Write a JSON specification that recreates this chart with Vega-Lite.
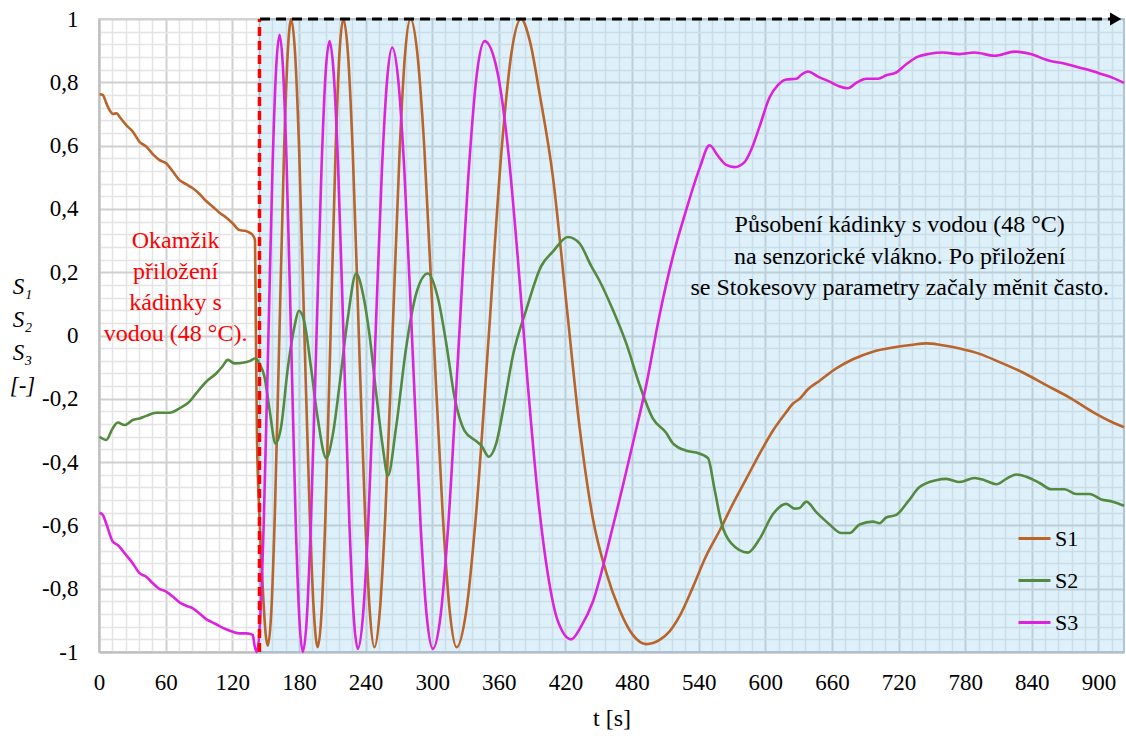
{
  "$schema": "https://vega.github.io/schema/vega-lite/v6.json",
  "width": 1025,
  "height": 633,
  "autosize": {"type": "none"},
  "padding": {"left": 99, "top": 19, "right": 2, "bottom": 84},
  "background": "white",
  "config": {
    "view": {"stroke": "#c8c8c8", "strokeWidth": 1.5},
    "font": "Liberation Serif"
  },
  "datasets": {
    "series": [
      {"s":"S1","t":0.5,"v":0.762},{"s":"S1","t":3.4,"v":0.760},{"s":"S1","t":6.5,"v":0.735},{"s":"S1","t":9.5,"v":0.712},{"s":"S1","t":12.5,"v":0.700},{"s":"S1","t":16,"v":0.702},{"s":"S1","t":18.5,"v":0.691},{"s":"S1","t":24.5,"v":0.665},{"s":"S1","t":30.4,"v":0.644},{"s":"S1","t":36.5,"v":0.612},{"s":"S1","t":42.5,"v":0.597},{"s":"S1","t":48.5,"v":0.573},{"s":"S1","t":54.5,"v":0.554},{"s":"S1","t":60.5,"v":0.544},{"s":"S1","t":66.5,"v":0.518},{"s":"S1","t":72.5,"v":0.491},{"s":"S1","t":78.5,"v":0.478},{"s":"S1","t":84.5,"v":0.465},{"s":"S1","t":90.5,"v":0.447},{"s":"S1","t":96.5,"v":0.425},{"s":"S1","t":102.5,"v":0.407},{"s":"S1","t":108.5,"v":0.388},{"s":"S1","t":114.5,"v":0.373},{"s":"S1","t":120.5,"v":0.354},{"s":"S1","t":126.5,"v":0.333},{"s":"S1","t":131,"v":0.331},{"s":"S1","t":135.5,"v":0.325},{"s":"S1","t":139.4,"v":0.312},{"s":"S1","t":140.5,"v":0.30},{"s":"S1","t":141.3,"v":0.0},{"s":"S1","t":142.3,"v":-0.33},{"s":"S1","t":144.5,"v":-0.57},{"s":"S1","t":147.5,"v":-0.80},{"s":"S1","t":150,"v":-0.94},{"s":"S1","t":152,"v":-0.98},{"s":"S1","t":155.2,"v":-0.87},{"s":"S1","t":158.3,"v":-0.57},{"s":"S1","t":162.5,"v":0.01},{"s":"S1","t":166.7,"v":0.59},{"s":"S1","t":169.9,"v":0.89},{"s":"S1","t":173,"v":1.0},{"s":"S1","t":176.6,"v":0.89},{"s":"S1","t":180.2,"v":0.59},{"s":"S1","t":185,"v":0.0},{"s":"S1","t":189.8,"v":-0.57},{"s":"S1","t":193.4,"v":-0.87},{"s":"S1","t":197,"v":-0.985},{"s":"S1","t":200.5,"v":-0.87},{"s":"S1","t":203.9,"v":-0.57},{"s":"S1","t":208.5,"v":0.0},{"s":"S1","t":213.1,"v":0.59},{"s":"S1","t":216.5,"v":0.89},{"s":"S1","t":220,"v":1.0},{"s":"S1","t":224.2,"v":0.89},{"s":"S1","t":228.4,"v":0.59},{"s":"S1","t":234,"v":0.0},{"s":"S1","t":239.6,"v":-0.57},{"s":"S1","t":243.8,"v":-0.87},{"s":"S1","t":248,"v":-0.985},{"s":"S1","t":252.9,"v":-0.87},{"s":"S1","t":257.8,"v":-0.57},{"s":"S1","t":264.3,"v":0.0},{"s":"S1","t":270.8,"v":0.59},{"s":"S1","t":275.6,"v":0.89},{"s":"S1","t":280.5,"v":1.0},{"s":"S1","t":286.7,"v":0.89},{"s":"S1","t":293,"v":0.59},{"s":"S1","t":301.3,"v":0.0},{"s":"S1","t":309.6,"v":-0.57},{"s":"S1","t":315.8,"v":-0.87},{"s":"S1","t":322,"v":-0.985},{"s":"S1","t":330.7,"v":-0.87},{"s":"S1","t":339.4,"v":-0.57},{"s":"S1","t":351,"v":0.0},{"s":"S1","t":362.6,"v":0.59},{"s":"S1","t":371.3,"v":0.89},{"s":"S1","t":380,"v":1.0},{"s":"S1","t":388,"v":0.93},{"s":"S1","t":396.7,"v":0.765},{"s":"S1","t":408.7,"v":0.502},{"s":"S1","t":420.7,"v":0.107},{"s":"S1","t":432.7,"v":-0.288},{"s":"S1","t":444.7,"v":-0.578},{"s":"S1","t":456.8,"v":-0.749},{"s":"S1","t":468.8,"v":-0.867},{"s":"S1","t":480.7,"v":-0.946},{"s":"S1","t":492.8,"v":-0.975},{"s":"S1","t":504.8,"v":-0.962},{"s":"S1","t":513.8,"v":-0.935},{"s":"S1","t":522.8,"v":-0.887},{"s":"S1","t":534.8,"v":-0.795},{"s":"S1","t":546.8,"v":-0.696},{"s":"S1","t":558.8,"v":-0.617},{"s":"S1","t":570.8,"v":-0.532},{"s":"S1","t":582.8,"v":-0.453},{"s":"S1","t":594.8,"v":-0.374},{"s":"S1","t":606.8,"v":-0.301},{"s":"S1","t":618.9,"v":-0.242},{"s":"S1","t":625,"v":-0.215},{"s":"S1","t":630.9,"v":-0.200},{"s":"S1","t":638.4,"v":-0.170},{"s":"S1","t":648.9,"v":-0.143},{"s":"S1","t":663.9,"v":-0.104},{"s":"S1","t":678.9,"v":-0.075},{"s":"S1","t":696.9,"v":-0.051},{"s":"S1","t":714.9,"v":-0.038},{"s":"S1","t":732.9,"v":-0.029},{"s":"S1","t":744.9,"v":-0.025},{"s":"S1","t":756.9,"v":-0.029},{"s":"S1","t":775,"v":-0.041},{"s":"S1","t":793,"v":-0.058},{"s":"S1","t":811,"v":-0.084},{"s":"S1","t":832,"v":-0.117},{"s":"S1","t":853,"v":-0.157},{"s":"S1","t":874,"v":-0.196},{"s":"S1","t":895,"v":-0.242},{"s":"S1","t":913,"v":-0.275},{"s":"S1","t":923,"v":-0.290},
      {"s":"S2","t":0.5,"v":-0.320},{"s":"S2","t":6.5,"v":-0.330},{"s":"S2","t":12.4,"v":-0.293},{"s":"S2","t":16.9,"v":-0.275},{"s":"S2","t":23,"v":-0.283},{"s":"S2","t":30.4,"v":-0.267},{"s":"S2","t":36.5,"v":-0.262},{"s":"S2","t":42.5,"v":-0.254},{"s":"S2","t":51.5,"v":-0.244},{"s":"S2","t":63.5,"v":-0.244},{"s":"S2","t":72.5,"v":-0.230},{"s":"S2","t":81.5,"v":-0.209},{"s":"S2","t":87.5,"v":-0.183},{"s":"S2","t":96.5,"v":-0.146},{"s":"S2","t":105.5,"v":-0.120},{"s":"S2","t":111.5,"v":-0.096},{"s":"S2","t":116,"v":-0.077},{"s":"S2","t":122,"v":-0.088},{"s":"S2","t":129.5,"v":-0.086},{"s":"S2","t":135.5,"v":-0.081},{"s":"S2","t":141,"v":-0.072},{"s":"S2","t":144.5,"v":-0.090},{"s":"S2","t":149,"v":-0.130},{"s":"S2","t":153.6,"v":-0.235},{"s":"S2","t":159,"v":-0.341},{"s":"S2","t":164,"v":-0.288},{"s":"S2","t":170,"v":-0.104},{"s":"S2","t":176,"v":0.028},{"s":"S2","t":180,"v":0.078},{"s":"S2","t":185,"v":0.041},{"s":"S2","t":191,"v":-0.104},{"s":"S2","t":197,"v":-0.262},{"s":"S2","t":204.6,"v":-0.387},{"s":"S2","t":210.5,"v":-0.314},{"s":"S2","t":216.6,"v":-0.156},{"s":"S2","t":224,"v":0.054},{"s":"S2","t":231.6,"v":0.196},{"s":"S2","t":237.6,"v":0.133},{"s":"S2","t":243.6,"v":0.002},{"s":"S2","t":249.6,"v":-0.183},{"s":"S2","t":255.6,"v":-0.354},{"s":"S2","t":260.1,"v":-0.443},{"s":"S2","t":267.6,"v":-0.288},{"s":"S2","t":276.6,"v":-0.038},{"s":"S2","t":285.7,"v":0.133},{"s":"S2","t":296.1,"v":0.196},{"s":"S2","t":305.1,"v":0.120},{"s":"S2","t":312.7,"v":-0.025},{"s":"S2","t":320.2,"v":-0.196},{"s":"S2","t":329.2,"v":-0.301},{"s":"S2","t":339.7,"v":-0.334},{"s":"S2","t":344.2,"v":-0.347},{"s":"S2","t":351,"v":-0.383},{"s":"S2","t":357.7,"v":-0.341},{"s":"S2","t":365.2,"v":-0.209},{"s":"S2","t":372.7,"v":-0.064},{"s":"S2","t":384.7,"v":0.081},{"s":"S2","t":398.2,"v":0.219},{"s":"S2","t":408.7,"v":0.265},{"s":"S2","t":422.2,"v":0.311},{"s":"S2","t":432.7,"v":0.291},{"s":"S2","t":443.3,"v":0.219},{"s":"S2","t":450.7,"v":0.173},{"s":"S2","t":462.7,"v":0.081},{"s":"S2","t":474.8,"v":-0.025},{"s":"S2","t":486.8,"v":-0.156},{"s":"S2","t":498.7,"v":-0.262},{"s":"S2","t":510.8,"v":-0.308},{"s":"S2","t":516.8,"v":-0.341},{"s":"S2","t":528.8,"v":-0.364},{"s":"S2","t":537.8,"v":-0.370},{"s":"S2","t":548.3,"v":-0.387},{"s":"S2","t":554.3,"v":-0.486},{"s":"S2","t":560.4,"v":-0.591},{"s":"S2","t":569.4,"v":-0.657},{"s":"S2","t":584.3,"v":-0.686},{"s":"S2","t":594.8,"v":-0.643},{"s":"S2","t":606.8,"v":-0.565},{"s":"S2","t":618.9,"v":-0.532},{"s":"S2","t":626.4,"v":-0.547},{"s":"S2","t":630.9,"v":-0.545},{"s":"S2","t":636.9,"v":-0.525},{"s":"S2","t":645.9,"v":-0.558},{"s":"S2","t":657.9,"v":-0.597},{"s":"S2","t":668.4,"v":-0.624},{"s":"S2","t":675.9,"v":-0.624},{"s":"S2","t":684.9,"v":-0.597},{"s":"S2","t":696.9,"v":-0.588},{"s":"S2","t":702.9,"v":-0.593},{"s":"S2","t":708.9,"v":-0.575},{"s":"S2","t":717.9,"v":-0.567},{"s":"S2","t":728.4,"v":-0.525},{"s":"S2","t":738.9,"v":-0.479},{"s":"S2","t":753.9,"v":-0.457},{"s":"S2","t":762.9,"v":-0.453},{"s":"S2","t":775,"v":-0.463},{"s":"S2","t":788.4,"v":-0.450},{"s":"S2","t":797.4,"v":-0.457},{"s":"S2","t":808,"v":-0.470},{"s":"S2","t":817,"v":-0.453},{"s":"S2","t":826,"v":-0.439},{"s":"S2","t":835,"v":-0.446},{"s":"S2","t":847,"v":-0.466},{"s":"S2","t":857.5,"v":-0.486},{"s":"S2","t":869.5,"v":-0.486},{"s":"S2","t":880,"v":-0.501},{"s":"S2","t":892,"v":-0.501},{"s":"S2","t":902.6,"v":-0.518},{"s":"S2","t":913,"v":-0.525},{"s":"S2","t":923,"v":-0.538},
      {"s":"S3","t":0.5,"v":-0.560},{"s":"S3","t":3.5,"v":-0.567},{"s":"S3","t":6.5,"v":-0.594},{"s":"S3","t":12.4,"v":-0.651},{"s":"S3","t":16.9,"v":-0.662},{"s":"S3","t":24.5,"v":-0.694},{"s":"S3","t":30.4,"v":-0.720},{"s":"S3","t":36.5,"v":-0.751},{"s":"S3","t":42.5,"v":-0.762},{"s":"S3","t":48.5,"v":-0.783},{"s":"S3","t":54.5,"v":-0.801},{"s":"S3","t":60.5,"v":-0.809},{"s":"S3","t":66.5,"v":-0.825},{"s":"S3","t":72.5,"v":-0.843},{"s":"S3","t":78.5,"v":-0.854},{"s":"S3","t":84.5,"v":-0.862},{"s":"S3","t":90.5,"v":-0.878},{"s":"S3","t":96.5,"v":-0.896},{"s":"S3","t":102.5,"v":-0.907},{"s":"S3","t":108.5,"v":-0.918},{"s":"S3","t":114.5,"v":-0.928},{"s":"S3","t":120.5,"v":-0.936},{"s":"S3","t":126.5,"v":-0.941},{"s":"S3","t":132.6,"v":-0.941},{"s":"S3","t":138.5,"v":-0.946},{"s":"S3","t":140,"v":-0.978},{"s":"S3","t":142.1,"v":-1.0},{"s":"S3","t":145.2,"v":-0.894},{"s":"S3","t":148.3,"v":-0.598},{"s":"S3","t":152.4,"v":-0.025},{"s":"S3","t":156.4,"v":0.548},{"s":"S3","t":159.5,"v":0.844},{"s":"S3","t":162.6,"v":0.95},{"s":"S3","t":165.7,"v":0.844},{"s":"S3","t":168.9,"v":0.548},{"s":"S3","t":173.1,"v":-0.025},{"s":"S3","t":177.2,"v":-0.598},{"s":"S3","t":180.4,"v":-0.894},{"s":"S3","t":183.5,"v":-1.0},{"s":"S3","t":187.1,"v":-0.895},{"s":"S3","t":190.7,"v":-0.602},{"s":"S3","t":195.6,"v":-0.035},{"s":"S3","t":200.4,"v":0.532},{"s":"S3","t":204,"v":0.825},{"s":"S3","t":207.6,"v":0.93},{"s":"S3","t":211.4,"v":0.825},{"s":"S3","t":215.3,"v":0.535},{"s":"S3","t":220.4,"v":-0.03},{"s":"S3","t":225.5,"v":-0.595},{"s":"S3","t":229.3,"v":-0.885},{"s":"S3","t":233.1,"v":-0.99},{"s":"S3","t":237.7,"v":-0.886},{"s":"S3","t":242.4,"v":-0.599},{"s":"S3","t":248.6,"v":-0.04},{"s":"S3","t":254.7,"v":0.519},{"s":"S3","t":259.4,"v":0.806},{"s":"S3","t":264,"v":0.91},{"s":"S3","t":269.5,"v":0.806},{"s":"S3","t":275,"v":0.519},{"s":"S3","t":282.3,"v":-0.04},{"s":"S3","t":289.6,"v":-0.599},{"s":"S3","t":295.1,"v":-0.886},{"s":"S3","t":300.6,"v":-0.99},{"s":"S3","t":307.6,"v":-0.885},{"s":"S3","t":314.6,"v":-0.594},{"s":"S3","t":323.9,"v":-0.03},{"s":"S3","t":333.2,"v":0.534},{"s":"S3","t":340.2,"v":0.825},{"s":"S3","t":347.2,"v":0.93},{"s":"S3","t":358.9,"v":0.83},{"s":"S3","t":368,"v":0.60},{"s":"S3","t":377,"v":0.25},{"s":"S3","t":386,"v":-0.15},{"s":"S3","t":395,"v":-0.50},{"s":"S3","t":404,"v":-0.75},{"s":"S3","t":413,"v":-0.90},{"s":"S3","t":425.2,"v":-0.96},{"s":"S3","t":434,"v":-0.92},{"s":"S3","t":444.7,"v":-0.841},{"s":"S3","t":462.7,"v":-0.604},{"s":"S3","t":480.7,"v":-0.341},{"s":"S3","t":492.8,"v":-0.156},{"s":"S3","t":504.8,"v":0.065},{"s":"S3","t":516.8,"v":0.250},{"s":"S3","t":528.8,"v":0.397},{"s":"S3","t":540.8,"v":0.528},{"s":"S3","t":549.8,"v":0.601},{"s":"S3","t":557.3,"v":0.568},{"s":"S3","t":564.8,"v":0.539},{"s":"S3","t":572.3,"v":0.532},{"s":"S3","t":581.3,"v":0.548},{"s":"S3","t":587.3,"v":0.587},{"s":"S3","t":594.8,"v":0.660},{"s":"S3","t":603.8,"v":0.752},{"s":"S3","t":611.3,"v":0.791},{"s":"S3","t":618.9,"v":0.809},{"s":"S3","t":627.9,"v":0.811},{"s":"S3","t":632.4,"v":0.824},{"s":"S3","t":638.4,"v":0.834},{"s":"S3","t":647.4,"v":0.818},{"s":"S3","t":657.9,"v":0.802},{"s":"S3","t":666.9,"v":0.787},{"s":"S3","t":674.4,"v":0.781},{"s":"S3","t":681.9,"v":0.798},{"s":"S3","t":690.9,"v":0.811},{"s":"S3","t":701.4,"v":0.811},{"s":"S3","t":708.9,"v":0.822},{"s":"S3","t":717.9,"v":0.831},{"s":"S3","t":726.9,"v":0.857},{"s":"S3","t":737.4,"v":0.881},{"s":"S3","t":747.9,"v":0.890},{"s":"S3","t":759.9,"v":0.894},{"s":"S3","t":775,"v":0.889},{"s":"S3","t":788.4,"v":0.894},{"s":"S3","t":806.5,"v":0.884},{"s":"S3","t":824.5,"v":0.897},{"s":"S3","t":838,"v":0.890},{"s":"S3","t":856,"v":0.868},{"s":"S3","t":868,"v":0.860},{"s":"S3","t":878.5,"v":0.851},{"s":"S3","t":889,"v":0.841},{"s":"S3","t":901,"v":0.828},{"s":"S3","t":913,"v":0.814},{"s":"S3","t":923,"v":0.798}
    ]
  },
  "layer": [
    {
      "data": {"values": [{"t": 144.5, "t2": 923, "v": -1, "v2": 1}]},
      "mark": {"type": "rect", "fill": "#8dcbee", "fillOpacity": 0.29, "stroke": "#a9bfd3", "strokeWidth": 1.5},
      "encoding": {
        "x": {
          "field": "t", "type": "quantitative",
          "scale": {"domain": [0, 923], "nice": false, "zero": false},
          "axis": {
            "title": "t [s]",
            "titleFont": "Liberation Serif", "titleFontSize": 24, "titleFontWeight": "normal", "titleColor": "#000",
            "titleBaseline": "alphabetic", "titleY": 73,
            "tickCount": 200,
            "values": [0,12,24,36,48,60,72,84,96,108,120,132,144,156,168,180,192,204,216,228,240,252,264,276,288,300,312,324,336,348,360,372,384,396,408,420,432,444,456,468,480,492,504,516,528,540,552,564,576,588,600,612,624,636,648,660,672,684,696,708,720,732,744,756,768,780,792,804,816,828,840,852,864,876,888,900,912],
            "labelExpr": "datum.value % 60 === 0 ? '' + datum.value : ''",
            "labelFont": "Liberation Serif", "labelFontSize": 23, "labelColor": "#000", "labelPadding": 19,
            "labelOverlap": false, "labelFlush": false,
            "ticks": false,
            "grid": true,
            "gridColor": {"condition": {"test": "datum.value % 60 === 0", "value": "#d0d0d0"}, "value": "#e4e4e4"},
            "gridWidth": {"condition": {"test": "datum.value % 60 === 0", "value": 2}, "value": 1.5},
            "domainColor": "#bdbdbd", "domainWidth": 2
          }
        },
        "x2": {"field": "t2"},
        "y": {
          "field": "v", "type": "quantitative",
          "scale": {"domain": [-1, 1], "nice": false, "zero": false},
          "axis": {
            "title": ["S₁", "S₂", "S₃", "[-]"],
            "titleFont": "Liberation Serif", "titleFontSize": 23, "titleFontWeight": "normal", "titleFontStyle": "italic", "titleColor": "#000",
            "titleAngle": 0, "titleAlign": "center", "titleBaseline": "top",
            "titleX": -77, "titleY": 256, "titleLineHeight": 33,
            "tickCount": 200,
            "values": [-1,-0.96,-0.92,-0.88,-0.84,-0.8,-0.76,-0.72,-0.68,-0.64,-0.6,-0.56,-0.52,-0.48,-0.44,-0.4,-0.36,-0.32,-0.28,-0.24,-0.2,-0.16,-0.12,-0.08,-0.04,0,0.04,0.08,0.12,0.16,0.2,0.24,0.28,0.32,0.36,0.4,0.44,0.48,0.52,0.56,0.6,0.64,0.68,0.72,0.76,0.8,0.84,0.88,0.92,0.96,1],
            "labelExpr": "abs(round(datum.value*100)) % 20 === 0 ? replace(replace(format(datum.value, '.1~f'), '.', ','), '−', '-') : ''",
            "labelFont": "Liberation Serif", "labelFontSize": 23, "labelColor": "#000", "labelPadding": 21,
            "labelOverlap": false, "labelFlush": false,
            "ticks": false,
            "grid": true,
            "gridColor": {"condition": {"test": "abs(round(datum.value*100)) % 20 === 0", "value": "#d0d0d0"}, "value": "#e4e4e4"},
            "gridWidth": {"condition": {"test": "abs(round(datum.value*100)) % 20 === 0", "value": 2}, "value": 1.5},
            "domainColor": "#bdbdbd", "domainWidth": 2
          }
        },
        "y2": {"field": "v2"}
      }
    },
    {
      "data": {"name": "series"},
      "mark": {"type": "line", "interpolate": "monotone", "strokeWidth": 2.6},
      "encoding": {
        "x": {"field": "t", "type": "quantitative"},
        "y": {"field": "v", "type": "quantitative"},
        "color": {
          "field": "s", "type": "nominal",
          "scale": {"domain": ["S1", "S2", "S3"], "range": ["#b8642a", "#548a40", "#dd22dd"]},
          "legend": {
            "orient": "none", "legendX": 918, "legendY": 502, "title": null,
            "symbolType": "stroke", "symbolSize": 1024, "symbolStrokeWidth": 3,
            "labelFont": "Liberation Serif", "labelFontSize": 22, "labelColor": "#000",
            "labelOffset": 3, "rowPadding": 13, "padding": 0
          }
        }
      }
    },
    {
      "data": {"values": [{"t": 144.5, "v": -1, "v2": 1}]},
      "mark": {"type": "rule", "color": "#ff0000", "strokeWidth": 3.5, "strokeDash": [9, 5]},
      "encoding": {
        "x": {"field": "t", "type": "quantitative"},
        "y": {"field": "v", "type": "quantitative"},
        "y2": {"field": "v2"}
      }
    },
    {
      "data": {"values": [{"t": 145, "t2": 912, "v": 1}]},
      "mark": {"type": "rule", "color": "#000000", "strokeWidth": 3, "strokeDash": [10, 6]},
      "encoding": {
        "x": {"field": "t", "type": "quantitative"},
        "x2": {"field": "t2"},
        "y": {"field": "v", "type": "quantitative"}
      }
    },
    {
      "data": {"values": [{"t": 915.5, "v": 1}]},
      "mark": {"type": "point", "shape": "triangle-right", "filled": true, "color": "#000000", "size": 170, "opacity": 1},
      "encoding": {
        "x": {"field": "t", "type": "quantitative"},
        "y": {"field": "v", "type": "quantitative"}
      }
    },
    {
      "data": {"values": [{"t": 69, "v": 0.338, "label": "Okamžik\npřiložení\nkádinky s\nvodou (48 °C)."}]},
      "mark": {"type": "text", "color": "#ff0000", "font": "Liberation Serif", "fontSize": 24, "align": "center", "baseline": "top", "lineBreak": "\n", "lineHeight": 31},
      "encoding": {
        "x": {"field": "t", "type": "quantitative"},
        "y": {"field": "v", "type": "quantitative"},
        "text": {"field": "label"}
      }
    },
    {
      "data": {"values": [{"t": 721, "v": 0.386, "label": "Působení kádinky s vodou (48 °C)\nna senzorické vlákno. Po přiložení\nse Stokesovy parametry začaly měnit často."}]},
      "mark": {"type": "text", "color": "#000000", "font": "Liberation Serif", "fontSize": 24, "align": "center", "baseline": "top", "lineBreak": "\n", "lineHeight": 31.5},
      "encoding": {
        "x": {"field": "t", "type": "quantitative"},
        "y": {"field": "v", "type": "quantitative"},
        "text": {"field": "label"}
      }
    }
  ]
}
